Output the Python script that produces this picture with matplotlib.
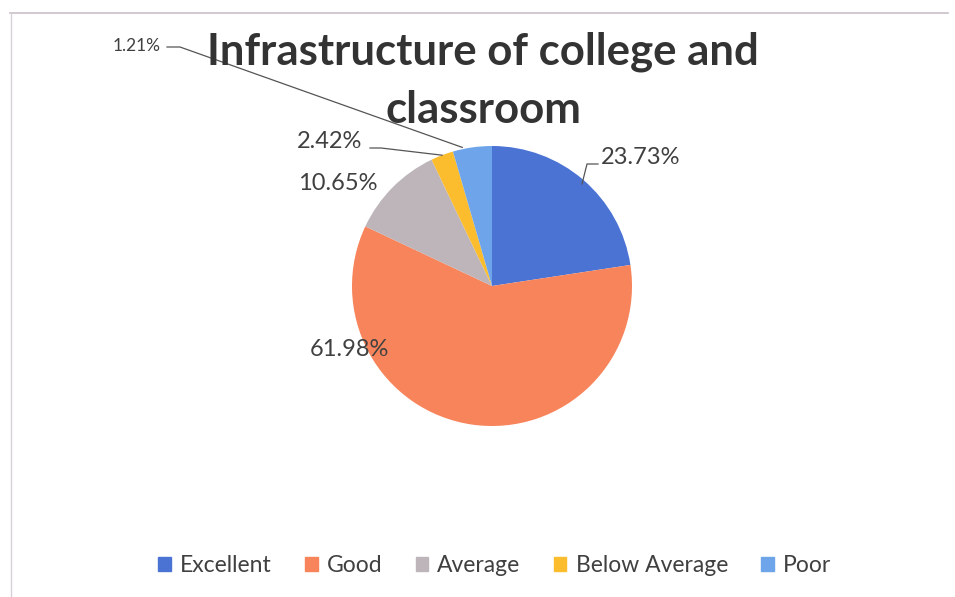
import matplotlib.pyplot as plt
import numpy as np

# Categories and the slice shares as drawn
categories = ['Excellent', 'Good', 'Average', 'Below Average', 'Poor']
shares = [22.6, 59.4, 10.9, 2.6, 4.5]
# Data labels as printed on the chart
label_text = ['23.73%', '61.98%', '10.65%', '2.42%', '1.21%']
colors = ['#4A73D4', '#F7845A', '#BDB5BA', '#FBBD2E', '#6EA5EA']

plt.rcParams['font.family'] = ['Lato', 'DejaVu Sans']
text_col = '#404040'

fig = plt.figure(figsize=(9.55, 5.97), dpi=100)
ax = fig.add_axes([0, 0, 1, 1])

cx, cy, r = 492, 311, 140
wedges, _ = ax.pie(shares, colors=colors, startangle=90, counterclock=False,
                   center=(cx, cy), radius=r, frame=True,
                   wedgeprops=dict(linewidth=0))
ax.set_xlim(0, 955)
ax.set_ylim(0, 597)
ax.set_aspect('equal')
ax.axis('off')

# faint frame of the scanned chart area
ax.plot([10, 948], [584, 584], color='#C8C0C8', lw=1.2)
ax.plot([11, 11], [0, 584], color='#D8D0D8', lw=1.0)

# title
ax.text(483, 545, 'Infrastructure of college and', ha='center', va='center',
        fontsize=31.5, fontweight='bold', color='#333333')
ax.text(483, 487, 'classroom', ha='center', va='center',
        fontsize=31.5, fontweight='bold', color='#333333')

def edge_point(i):
    start = 90 - 360 * sum(shares[:i]) / 100
    end = 90 - 360 * sum(shares[:i + 1]) / 100
    a = np.deg2rad((start + end) / 2)
    return cx + r * np.cos(a), cy + r * np.sin(a)

# data labels
ax.text(641, 440, label_text[0], ha='center', va='center', fontsize=17, color=text_col)
ax.text(349, 247, label_text[1], ha='center', va='center', fontsize=17, color=text_col)
ax.text(338, 414, label_text[2], ha='center', va='center', fontsize=17, color=text_col)
ax.text(330, 456, label_text[3], ha='center', va='center', fontsize=17, color=text_col)
ax.text(137, 551, label_text[4], ha='center', va='center', fontsize=12.5, color=text_col)

# leader lines
ax.plot([598, 587, 582], [433, 433, 413], color='#555555', lw=0.9)
bx, by = edge_point(3)
ax.plot([370, 381, bx], [449, 449, by], color='#555555', lw=0.9)
px, py = edge_point(4)
ax.plot([167, 180, px - 10], [550, 550, py], color='#555555', lw=0.9)

handles = [plt.Rectangle((0, 0), 1, 1, color=c) for c in colors]
fig.legend(handles, categories, loc='center', bbox_to_anchor=(0.518, 0.052), ncol=5,
           frameon=False, fontsize=16.5, handlelength=0.55, handleheight=0.55,
           handletextpad=0.4, columnspacing=1.45, labelcolor=text_col)

fig.savefig('out.png', dpi=100)
